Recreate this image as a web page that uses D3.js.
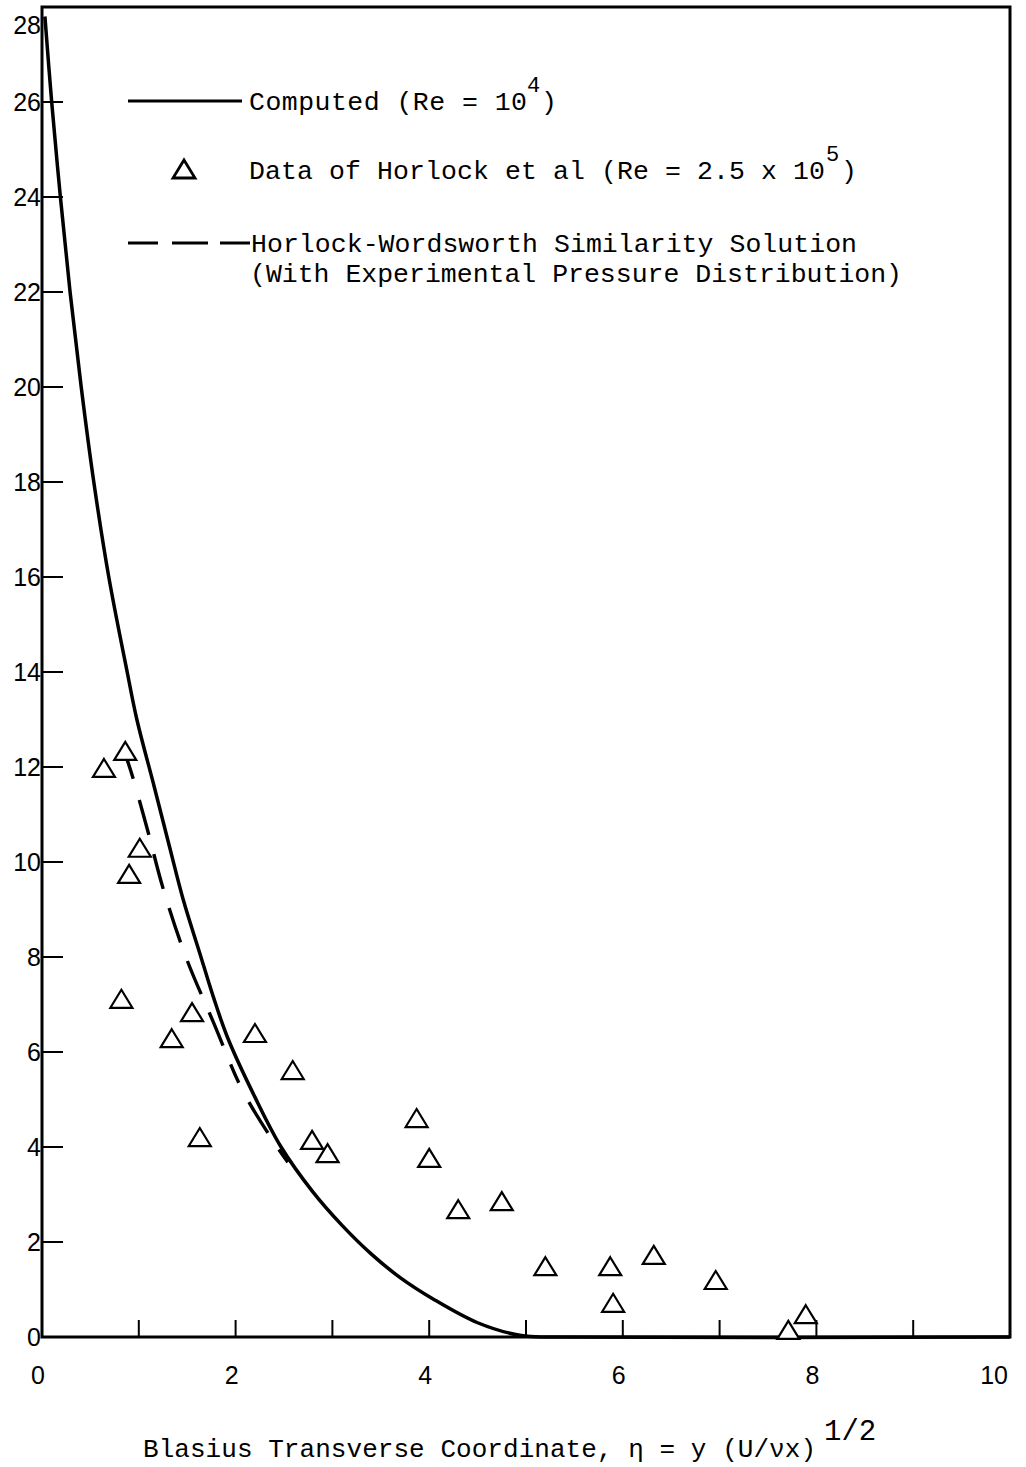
<!DOCTYPE html>
<html>
<head>
<meta charset="utf-8">
<script src="https://cdn.jsdelivr.net/npm/d3@7"></script>
<style>
  body { margin: 0; background: #fff; }
  svg { display: block; }
  .mono { font-family: "Liberation Mono", "DejaVu Sans Mono", monospace; }
  .num { font-family: "Liberation Sans", Arial, sans-serif; }
</style>
</head>
<body>
<svg id="chart" width="1026" height="1467"></svg>
<script>
// ---- data ----
const xTickValues = [0, 2, 4, 6, 8, 10];
const xMinorTicks = [1, 2, 3, 4, 5, 6, 7, 8, 9];
const yTickValues = [0, 2, 4, 6, 8, 10, 12, 14, 16, 18, 20, 22, 24, 26, 28];

// Computed (Re = 10^4)
const computedEta = [0.03, 0.10, 0.19, 0.29, 0.405, 0.535, 0.69, 0.88, 0.98, 1.16, 1.32, 1.46, 1.63, 1.77, 1.92, 2.20, 2.47, 2.80, 3.10, 3.40, 3.70, 4.04, 4.50, 4.95, 5.3, 10];
const computedVal = [27.8, 26, 24, 22, 20, 18, 16, 14, 13, 11.58, 10.3, 9.2, 8.08, 7.16, 6.29, 5.05, 4.0, 3.05, 2.35, 1.75, 1.25, 0.8, 0.3, 0.03, 0, 0];

// Horlock-Wordsworth similarity solution
const hwEta = [0.88, 0.94, 1.10, 1.25, 1.49, 1.77, 2.07, 2.38, 2.54];
const hwVal = [12.15, 11.77, 10.6, 9.45, 7.98, 6.63, 5.2, 4.15, 3.68];

// Data of Horlock et al (Re = 2.5 x 10^5)
const dataEta = [0.64, 0.86, 1.01, 0.90, 0.82, 1.55, 1.34, 1.63, 2.20, 2.59, 2.79, 2.95, 3.87, 4.00, 4.30, 4.75, 5.20, 5.87, 5.90, 6.32, 6.96, 7.71, 7.89];
const dataVal = [11.98, 12.34, 10.3, 9.75, 7.12, 6.84, 6.29, 4.21, 6.4, 5.62, 4.15, 3.87, 4.61, 3.77, 2.69, 2.86, 1.49, 1.49, 0.72, 1.73, 1.2, 0.15, 0.48];

// ---- layout ----
const svg = d3.select("#chart");
const L = 42, R = 1010, T = 7, B = 1337;
const x = d3.scaleLinear().domain([0, 10]).range([L, R]);
const y = d3.scaleLinear().domain([0, 28]).range([B, T]);

// frame
svg.append("rect").attr("x", L).attr("y", T).attr("width", R - L).attr("height", B - T)
  .attr("fill", "none").attr("stroke", "#000").attr("stroke-width", 3);

// y ticks (inward, to the right)
svg.append("g").selectAll("line").data(yTickValues.filter(v => v > 0 && v < 28)).join("line")
  .attr("x1", L).attr("x2", L + 21).attr("y1", d => y(d)).attr("y2", d => y(d))
  .attr("stroke", "#000").attr("stroke-width", 2);
svg.append("g").selectAll("text").data(yTickValues).join("text")
  .attr("class", "num").attr("font-size", 25).attr("text-anchor", "end")
  .attr("x", L - 1).attr("y", d => d === 28 ? y(d) + 18 : y(d))
  .attr("dominant-baseline", "central").text(d => d);

// x ticks (upward)
svg.append("g").selectAll("line").data(xMinorTicks).join("line")
  .attr("x1", d => x(d)).attr("x2", d => x(d)).attr("y1", B).attr("y2", B - 17)
  .attr("stroke", "#000").attr("stroke-width", 2);
svg.append("g").selectAll("text").data(xTickValues).join("text")
  .attr("class", "num").attr("font-size", 25)
  .attr("text-anchor", d => d === 10 ? "end" : "middle")
  .attr("x", d => d === 10 ? x(d) - 2 : x(d) - 4)
  .attr("y", B + 38).attr("dominant-baseline", "central").text(d => d);

// computed curve
const line = d3.line().x(d => x(d[0])).y(d => y(d[1])).curve(d3.curveCatmullRom.alpha(0.5));
svg.append("path").datum(d3.zip(computedEta, computedVal)).attr("d", line)
  .attr("fill", "none").attr("stroke", "#000").attr("stroke-width", 3.5);

// similarity solution dashed
svg.append("path").datum(d3.zip(hwEta, hwVal)).attr("d", line)
  .attr("fill", "none").attr("stroke", "#000").attr("stroke-width", 3.4)
  .attr("stroke-dasharray", "20,22,36,20,36,20,36,20,36,20,36,20");

// triangles
const tri = "M0,-9L11,9L-11,9Z";
svg.append("g").selectAll("path").data(d3.zip(dataEta, dataVal)).join("path")
  .attr("d", tri).attr("transform", d => `translate(${x(d[0])},${y(d[1])})`)
  .attr("fill", "#fff").attr("stroke", "#000").attr("stroke-width", 2.2);

// legend
const lg = svg.append("g").attr("class", "mono").attr("font-size", 26.5);
lg.append("line").attr("x1", 128).attr("x2", 242).attr("y1", 101).attr("y2", 101)
  .attr("stroke", "#000").attr("stroke-width", 3.2);
lg.append("text").attr("x", 249).attr("y", 110).attr("textLength", 278).attr("lengthAdjust", "spacing")
  .text("Computed (Re = 10");
lg.append("text").attr("x", 527).attr("y", 92).attr("font-size", 22).text("4");
lg.append("text").attr("x", 541).attr("y", 110).text(")");

lg.append("path").attr("d", tri).attr("transform", "translate(184,169)")
  .attr("fill", "#fff").attr("stroke", "#000").attr("stroke-width", 2.8);
lg.append("text").attr("x", 249).attr("y", 179).attr("textLength", 576).attr("lengthAdjust", "spacing")
  .text("Data of Horlock et al (Re = 2.5 x 10");
lg.append("text").attr("x", 826).attr("y", 161).attr("font-size", 22).text("5");
lg.append("text").attr("x", 841).attr("y", 179).text(")");

lg.append("line").attr("x1", 128).attr("x2", 250).attr("y1", 243).attr("y2", 243)
  .attr("stroke", "#000").attr("stroke-width", 3.2).attr("stroke-dasharray", "30,14,36,12,40");
lg.append("text").attr("x", 251).attr("y", 252).attr("textLength", 606).attr("lengthAdjust", "spacing")
  .text("Horlock-Wordsworth Similarity Solution");
lg.append("text").attr("x", 250).attr("y", 282).attr("textLength", 652).attr("lengthAdjust", "spacing")
  .text("(With Experimental Pressure Distribution)");

// x axis title
svg.append("text").attr("class", "mono").attr("font-size", 26).attr("x", 143).attr("y", 1457)
  .attr("textLength", 673).attr("lengthAdjust", "spacing")
  .text("Blasius Transverse Coordinate, η = y  (U/νx)");
svg.append("text").attr("class", "mono").attr("font-size", 29).attr("x", 824).attr("y", 1440)
  .text("1/2");
</script>
</body>
</html>
